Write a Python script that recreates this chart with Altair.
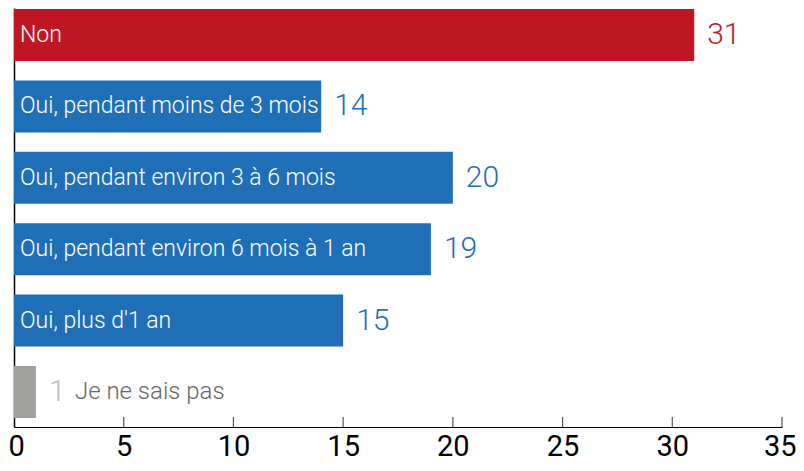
import altair as alt
import pandas as pd

categories = [
    "Non",
    "Oui, pendant moins de 3 mois",
    "Oui, pendant environ 3 à 6 mois",
    "Oui, pendant environ 6 mois à 1 an",
    "Oui, plus d'1 an",
    "Je ne sais pas",
]
values = [31, 14, 20, 19, 15, 1]
bar_colors = ["#BE1622", "#1F6FB7", "#1F6FB7", "#1F6FB7", "#1F6FB7", "#A0A09F"]
value_colors = ["#BE1622", "#1F6FB7", "#1F6FB7", "#1F6FB7", "#1F6FB7", "#BDBDBD"]
label_inside = [True, True, True, True, True, False]
tick_values = [0, 5, 10, 15, 20, 25, 30, 35]

df = pd.DataFrame({
    "cat": categories,
    "value": values,
    "bar_color": bar_colors,
    "value_color": value_colors,
    "inside_label": [c if i else "" for c, i in zip(categories, label_inside)],
    "outside_label": ["" if i else c for c, i in zip(categories, label_inside)],
    "value_text": [str(v) for v in values],
})
ticks_df = pd.DataFrame({"t": tick_values[1:]})

FONT = "Roboto"

x_scale = alt.Scale(domain=[0, 35], nice=False, zero=True)
y_enc = alt.Y(
    "cat:N",
    sort=categories,
    scale=alt.Scale(paddingInner=0.2717, paddingOuter=0.07, align=0.1),
    axis=alt.Axis(labels=False, ticks=False, title=None, domainColor="black",
                  domainWidth=1.5, grid=False),
)

x_axis = alt.Axis(
    values=tick_values, title=None, grid=False, ticks=False, tickSize=0,
    labelFontSize=29, labelColor="black", labelFont=FONT, labelPadding=5,
    domainColor="black", domainWidth=1.2, labelFlush=True,
    labelOffset={
        "condition": [
            {"test": "datum.value == 0", "value": -6},
            {"test": "datum.value == 35", "value": 14},
        ],
        "value": 0,
    },
)

bars = alt.Chart(df).mark_bar().encode(
    x=alt.X("value:Q", scale=x_scale, axis=x_axis),
    y=y_enc,
    color=alt.Color("bar_color:N", scale=None),
)

inside = alt.Chart(df).transform_calculate(zero="0").mark_text(
    align="left", baseline="middle", dx=6, fontSize=23, font=FONT,
    fontWeight=300, color="white"
).encode(
    x=alt.X("zero:Q", scale=x_scale),
    y=y_enc,
    text="inside_label:N",
)

vals = alt.Chart(df).mark_text(
    align="left", baseline="middle", dx=13, fontSize=30, font=FONT, fontWeight=300
).encode(
    x=alt.X("value:Q", scale=x_scale),
    y=y_enc,
    text="value_text:N",
    color=alt.Color("value_color:N", scale=None),
)

outside = alt.Chart(df).mark_text(
    align="left", baseline="middle", dx=39, fontSize=24, font=FONT,
    fontWeight=300, color="#666666"
).encode(
    x=alt.X("value:Q", scale=x_scale),
    y=y_enc,
    text="outside_label:N",
)

tick_rules = alt.Chart(ticks_df).mark_rule(color="#555555", strokeWidth=1.2).encode(
    x=alt.X("t:Q", scale=x_scale),
    y=alt.value(409),
    y2=alt.value(419),
)

chart = alt.layer(bars, inside, vals, outside, tick_rules).properties(
    width=768,
    height=419,
    padding={"left": 6, "top": 0, "right": 14, "bottom": 36},
    autosize=alt.AutoSizeParams(type="none"),
    background="white",
).configure_view(stroke=None)

chart.save("out.html", embed_options={"renderer": "svg", "actions": False})
